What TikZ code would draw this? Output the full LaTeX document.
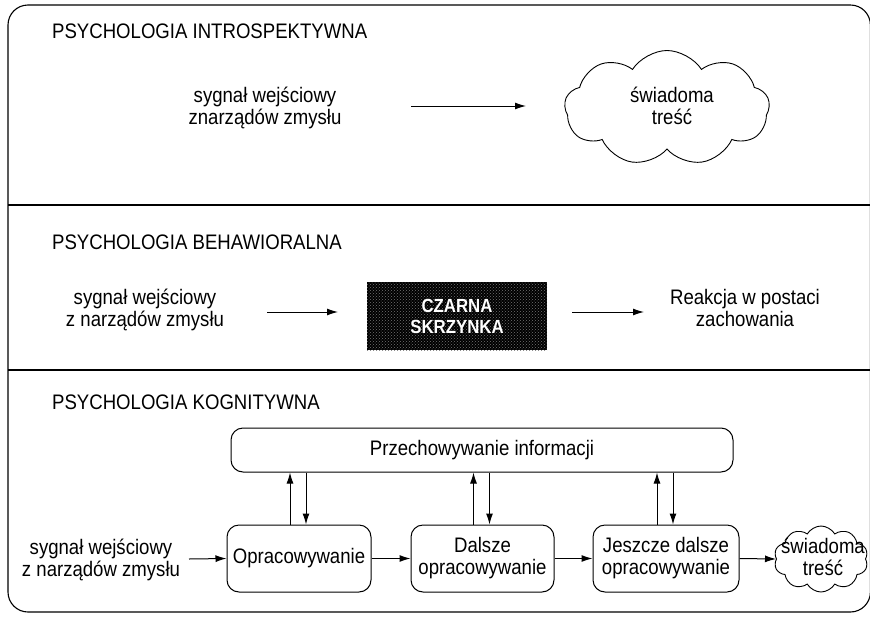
\documentclass[tikz,border=0pt]{standalone}
\usepackage{fontspec}
\setmainfont{Liberation Sans}
\newfontfamily\narrowsans[FakeStretch=0.885]{Liberation Sans}
\usetikzlibrary{arrows.meta,shapes.symbols,patterns}

\tikzset{
  frame/.style={line width=1.1pt, rounded corners=20pt},
  divider/.style={line width=1.4pt},
  heading/.style={anchor=west, inner sep=0pt, font=\narrowsans\fontsize{21}{22}\selectfont},
  caption/.style={align=center, inner sep=0pt, font=\narrowsans\fontsize{21}{22}\selectfont},
  procbox/.style={draw, line width=1pt, rounded corners=12pt, align=center,
    inner sep=0pt, font=\narrowsans\fontsize{21}{22}\selectfont},
  flow/.style={line width=1pt, -{Latex[length=11pt,width=7pt]}},
  thought/.style={cloud, draw, line width=0.9pt, cloud puffs=9, cloud puff arc=115,
    inner sep=0pt},
  blackbox/.style={fill=black, inner sep=0pt, text=white, align=center,
    font=\narrowsans\bfseries\fontsize{19}{21}\selectfont,
    postaction={pattern=crosshatch dots, pattern color=black!55}}
}

\begin{document}
\begin{tikzpicture}[x=1pt,y=-1pt]
\useasboundingbox (0,0) rectangle (870,616);

% outer frame (its right side runs along the page edge) and section dividers
\draw[frame] (8,5) rectangle (870.4,612);
\draw[divider] (8,205) -- (870,205);
\draw[divider] (8,370) -- (870,370);

% --- introspective psychology
\node[heading] (h1) at (52,31) {PSYCHOLOGIA INTROSPEKTYWNA};
\node[caption] (s1) at (265,108) {sygnał wejściowy\\znarządów zmysłu};
\node[thought, minimum width=205pt, minimum height=115pt] (c1) at (667,108) {};
\node[caption] (t1) at (672,106) {świadoma\\treść};
\coordinate (a1s) at (411,106);
\coordinate (a1e) at (526,106);
\draw[flow] (a1s) -- (a1e);

% --- behavioural psychology
\node[heading] (h2) at (52,242) {PSYCHOLOGIA BEHAWIORALNA};
\node[caption] (s2) at (145,310) {sygnał wejściowy\\z narządów zmysłu};
\node[blackbox, minimum width=180pt, minimum height=68pt] (bb) at (457,316) {CZARNA\\SKRZYNKA};
\node[caption] (r2) at (745,308) {Reakcja w postaci\\zachowania};
\coordinate (a2s) at (267,312);
\coordinate (a2e) at (338,312);
\coordinate (a3s) at (572,312);
\coordinate (a3e) at (644,312);
\draw[flow] (a2s) -- (a2e);
\draw[flow] (a3s) -- (a3e);

% --- cognitive psychology
\node[heading] (h3) at (52,402) {PSYCHOLOGIA KOGNITYWNA};
\node[procbox, minimum width=502pt, minimum height=44pt] (store) at (482,450) {Przechowywanie informacji};
\node[procbox, minimum width=144pt, minimum height=67pt] (p1) at (299,558.5) {Opracowywanie};
\node[procbox, minimum width=143pt, minimum height=67pt] (p2) at (482.5,558.5) {Dalsze\\opracowywanie};
\node[procbox, minimum width=146pt, minimum height=67pt] (p3) at (666,558.5) {Jeszcze dalsze\\opracowywanie};
\node[caption] (s3) at (101,560) {sygnał wejściowy\\z narządów zmysłu};
\node[thought, cloud puffs=10, cloud puff arc=120, minimum width=94pt, minimum height=66pt] (c2) at (821,559) {};
\node[caption] (t2) at (823,557) {świadoma\\treść};
\coordinate (i3) at (189,559);

\draw[flow] (i3) -- (p1.west);
\draw[flow] (p1.east) -- (p2.west);
\draw[flow] (p2.east) -- (p3.west);
\draw[flow] (p3.east) -- (c2.west);

\foreach \p in {p1,p2,p3}{
  \draw[flow] ([xshift=-9pt]\p.north) -- ([xshift=-9pt]\p.north |- store.south);
  \draw[flow] ([xshift=7pt]\p.north |- store.south) -- ([xshift=7pt]\p.north);
}
\end{tikzpicture}
\end{document}
